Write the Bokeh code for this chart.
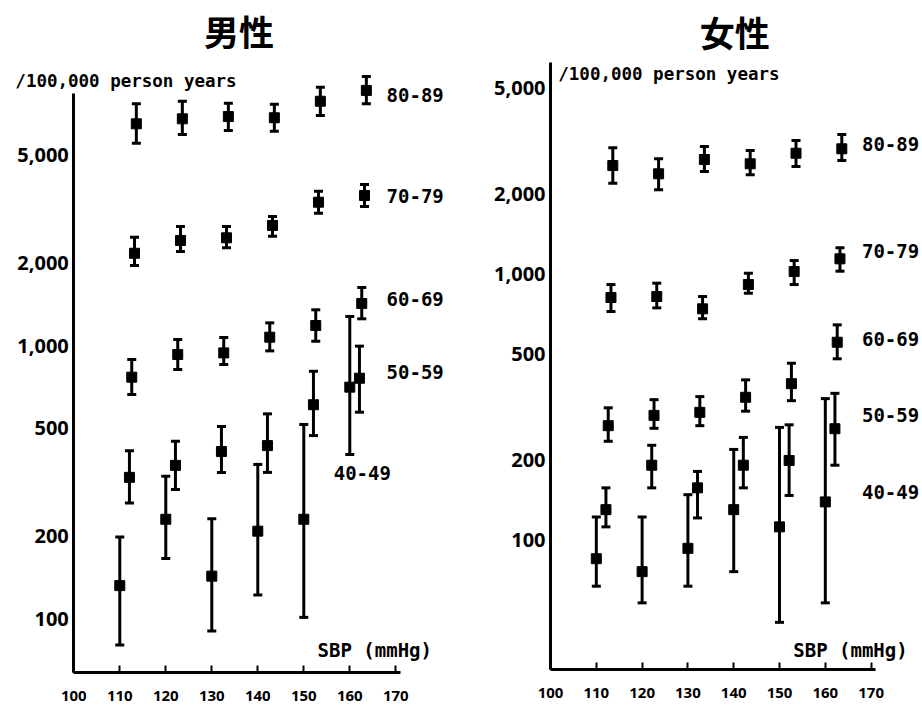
from bokeh.plotting import figure
from bokeh.layouts import row
from bokeh.models import (ColumnDataSource, Whisker, TeeHead, FixedTicker,
                          NumeralTickFormatter, Label, Range1d)
from bokeh.embed import file_html
from bokeh.resources import INLINE

# ---------------- data ----------------
sbp = [110, 120, 130, 140, 150, 160]
age_groups = ["40-49", "50-59", "60-69", "70-79", "80-89"]
group_offset = [0.0, 2.1, 2.6, 3.2, 3.6]   # horizontal dodge of each age group (mmHg)
x_ticks = [100, 110, 120, 130, 140, 150, 160, 170]
y_ticks = [100, 200, 500, 1000, 2000, 5000]

# 男性 (men), rate per 100,000 person years, with lower / upper limits
men_40_rate = [132, 231, 143, 209, 231, 704]
men_40_lo = [80, 166, 90, 122, 101, 399]
men_40_hi = [199, 332, 232, 367, 514, 1278]
men_50_rate = [329, 364, 409, 430, 607, 759]
men_50_lo = [265, 297, 343, 343, 468, 570]
men_50_hi = [412, 446, 505, 562, 805, 995]
men_60_rate = [766, 927, 940, 1073, 1184, 1426]
men_60_lo = [662, 817, 852, 956, 1037, 1253]
men_60_hi = [889, 1052, 1070, 1211, 1352, 1632]
men_70_rate = [2178, 2426, 2481, 2754, 3350, 3546]
men_70_lo = [1965, 2211, 2280, 2515, 3053, 3230]
men_70_hi = [2494, 2730, 2730, 2970, 3675, 3890]
men_80_rate = [6490, 6770, 6900, 6830, 7850, 8600]
men_80_lo = [5510, 5930, 6130, 6100, 6960, 7690]
men_80_hi = [7690, 7850, 7720, 7660, 8840, 9670]

# 女性 (women)
women_40_rate = [85, 76, 93, 130, 112, 139]
women_40_lo = [67, 58, 67, 76, 49, 58]
women_40_hi = [122, 122, 148, 219, 265, 340]
women_50_rate = [130, 191, 157, 191, 199, 262]
women_50_lo = [112, 157, 121, 157, 147, 191]
women_50_hi = [157, 227, 181, 243, 271, 356]
women_60_rate = [269, 294, 302, 344, 387, 554]
women_60_lo = [235, 263, 269, 305, 334, 480]
women_60_hi = [314, 337, 346, 400, 462, 644]
women_70_rate = [816, 823, 740, 913, 1022, 1141]
women_70_lo = [723, 746, 679, 847, 913, 1025]
women_70_hi = [913, 924, 823, 1007, 1124, 1255]
women_80_rate = [2559, 2382, 2697, 2597, 2847, 2958]
women_80_lo = [2196, 2074, 2430, 2362, 2537, 2673]
women_80_hi = [2984, 2713, 3017, 2914, 3178, 3347]

men_rates = [men_40_rate, men_50_rate, men_60_rate, men_70_rate, men_80_rate]
men_los = [men_40_lo, men_50_lo, men_60_lo, men_70_lo, men_80_lo]
men_his = [men_40_hi, men_50_hi, men_60_hi, men_70_hi, men_80_hi]
women_rates = [women_40_rate, women_50_rate, women_60_rate, women_70_rate, women_80_rate]
women_los = [women_40_lo, women_50_lo, women_60_lo, women_70_lo, women_80_lo]
women_his = [women_40_hi, women_50_hi, women_60_hi, women_70_hi, women_80_hi]

unit_text = "/100,000 person years"
x_label_text = "SBP (mmHg)"

TICK_FONT = "Noto Sans"
MONO_FONT = "DejaVu Sans Mono"
TITLE_FONT = "Noto Sans CJK JP"
INK = "black"


def make_panel(title, rates, los, his, width, height, x_range, y_range,
               x_bounds, y_bounds, title_pos, group_label_pos, unit_pos,
               sbp_label_pos):
    p = figure(width=width, height=height, output_backend="svg",
               toolbar_location=None, y_axis_type="log", title=None,
               x_range=Range1d(*x_range), y_range=Range1d(*y_range),
               min_border_left=0, min_border_right=0,
               min_border_top=0, min_border_bottom=0)
    p.outline_line_color = None
    p.xgrid.grid_line_color = None
    p.ygrid.grid_line_color = None
    p.background_fill_color = "white"
    p.border_fill_color = "white"

    xa = p.xaxis[0]
    xa.fixed_location = y_bounds[0]
    xa.ticker = FixedTicker(ticks=x_ticks, minor_ticks=[])
    xa.bounds = x_bounds
    xa.axis_line_width = 3
    xa.axis_line_color = INK
    xa.major_tick_line_width = 2
    xa.major_tick_line_color = INK
    xa.major_tick_in = 7
    xa.major_tick_out = 0
    xa.minor_tick_line_color = None
    xa.major_label_text_font = TICK_FONT
    xa.major_label_text_font_style = "bold"
    xa.major_label_text_font_size = "15px"
    xa.major_label_text_color = INK
    xa.major_label_standoff = 19

    ya = p.yaxis[0]
    ya.fixed_location = x_bounds[0]
    ya.ticker = FixedTicker(ticks=y_ticks, minor_ticks=[])
    ya.formatter = NumeralTickFormatter(format="0,0")
    ya.bounds = y_bounds
    ya.axis_line_width = 3
    ya.axis_line_color = INK
    ya.major_tick_line_color = None
    ya.major_tick_in = 0
    ya.major_tick_out = 0
    ya.minor_tick_line_color = None
    ya.major_label_text_font = TICK_FONT
    ya.major_label_text_font_style = "bold"
    ya.major_label_text_font_size = "20px"
    ya.major_label_text_color = INK
    ya.major_label_standoff = 5

    for g, off, r, lo, hi, (lx, ly) in zip(age_groups, group_offset, rates,
                                           los, his, group_label_pos):
        src = ColumnDataSource(dict(x=[s + off for s in sbp], y=r, lo=lo, hi=hi))
        p.add_layout(Whisker(source=src, base="x", upper="hi", lower="lo",
                             dimension="height", line_width=3, line_color=INK,
                             upper_head=TeeHead(size=9, line_width=3, line_color=INK),
                             lower_head=TeeHead(size=9, line_width=3, line_color=INK)))
        p.scatter("x", "y", source=src, marker="square", size=10,
                  fill_color=INK, line_color=INK)
        p.add_layout(Label(x=lx, y=ly, text=g, text_font=MONO_FONT,
                           text_font_size="19px", text_font_style="bold",
                           text_color=INK, text_baseline="middle",
                           text_align="left"))

    p.add_layout(Label(x=title_pos[0], y=title_pos[1], text=title,
                       text_font=TITLE_FONT, text_font_size="35px",
                       text_font_style="bold", text_color=INK,
                       text_baseline="middle", text_align="center"))
    p.add_layout(Label(x=unit_pos[0], y=unit_pos[1], text=unit_text,
                       text_font=MONO_FONT, text_font_size="17.5px",
                       text_font_style="bold", text_color=INK,
                       text_baseline="middle"))
    p.add_layout(Label(x=sbp_label_pos[0], y=sbp_label_pos[1], text=x_label_text,
                       text_font=MONO_FONT, text_font_size="19px",
                       text_font_style="bold", text_color=INK,
                       text_baseline="middle"))
    return p


p_men = make_panel(
    "男性", men_rates, men_los, men_his, width=470, height=706,
    x_range=(84.07, 186.24), y_range=(47.62, 18363),
    x_bounds=(100, 171), y_bounds=(63.6, 8357),
    title_pos=(135.9, 14256),
    group_label_pos=[(156.5, 340), (168, 797), (168, 1487), (168, 3545), (168, 8310)],
    unit_pos=(87.3, 9274), sbp_label_pos=(153.0, 76.4))

p_women = make_panel(
    "女性", women_rates, women_los, women_his, width=452, height=706,
    x_range=(82.53, 181.22), y_range=(23.64, 10684),
    x_bounds=(100, 171), y_bounds=(32.6, 6245),
    title_pos=(140.2, 8168),
    group_label_pos=[(168, 151), (168, 296), (168, 572), (168, 1226), (168, 3097)],
    unit_pos=(101.7, 5677), sbp_label_pos=(153.0, 38.4))

layout = row(p_men, p_women)
open("out.html", "w").write(file_html(layout, INLINE))
